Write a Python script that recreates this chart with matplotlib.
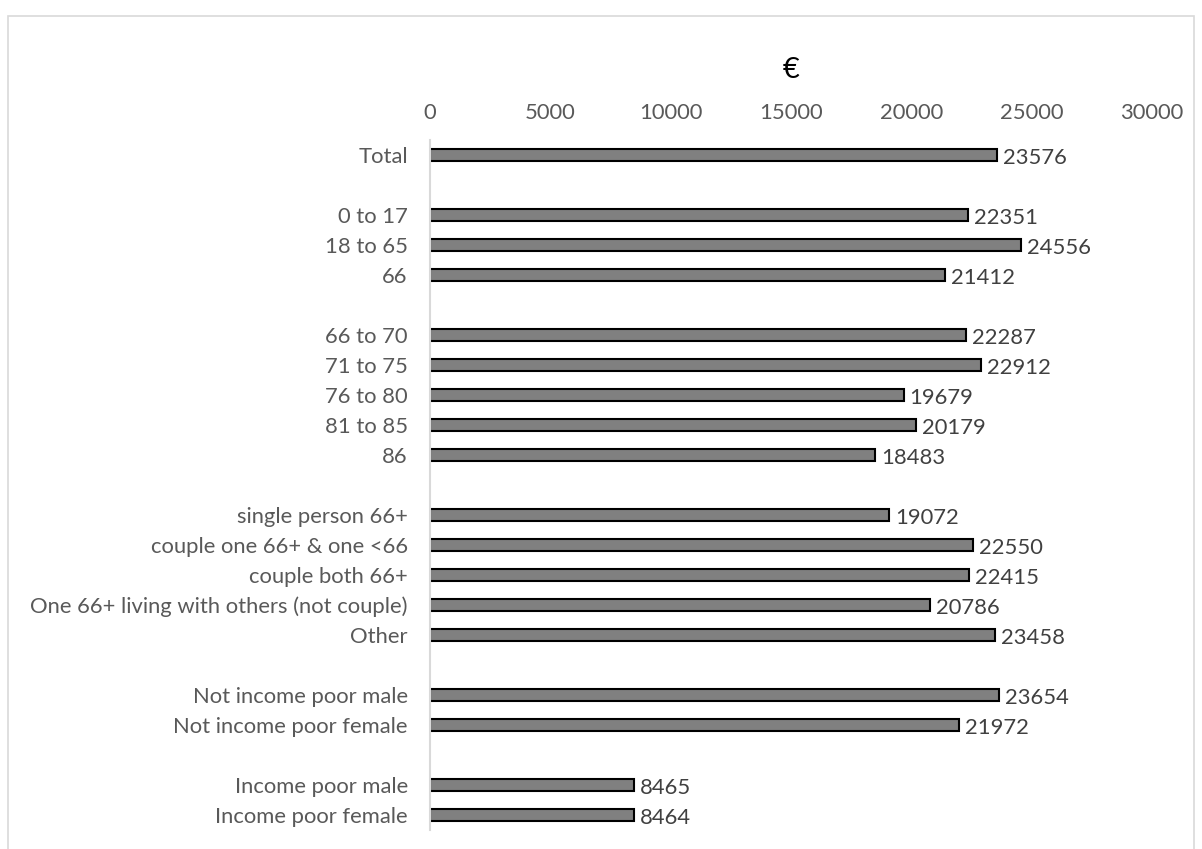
import matplotlib
matplotlib.use("Agg")
import matplotlib.pyplot as plt
from matplotlib.patches import Rectangle

categories = ["Total", "", "0 to 17", "18 to 65", "66", "",
              "66 to 70", "71 to 75", "76 to 80", "81 to 85", "86", "",
              "single person 66+", "couple one 66+ & one <66", "couple both 66+",
              "One 66+ living with others (not couple)", "Other", "",
              "Not income poor male", "Not income poor female", "",
              "Income poor male", "Income poor female"]
values = [23576, None, 22351, 24556, 21412, None,
          22287, 22912, 19679, 20179, 18483, None,
          19072, 22550, 22415, 20786, 23458, None,
          23654, 21972, None,
          8465, 8464]
xticks = [0, 5000, 10000, 15000, 20000, 25000, 30000]

plt.rcParams['font.family'] = ['Lato', 'DejaVu Sans']

W, H = 1202, 849
FS = 15.8
fig = plt.figure(figsize=(W/100, H/100), dpi=100)
fig.patches.append(Rectangle((8/W, -0.05), (1194-8)/W, (849-16)/H + 0.05,
                             transform=fig.transFigure, fill=False,
                             edgecolor="#d9d9d9", linewidth=1.2))

ax = fig.add_axes([430/W, (H-830)/H, (1152-430)/W, (830-140)/H])
ys = list(range(len(categories)))
for y, v in zip(ys, values):
    if v is None:
        continue
    ax.barh(y, v, height=0.4, color="#808080", edgecolor="black", linewidth=1.5)
    ax.text(v + 250, y + 0.1, str(v), va="center", ha="left",
            fontsize=FS, color="#404040")

ax.set_ylim(len(categories) - 0.5, -0.5)
ax.set_xlim(0, 30000)
ax.set_yticks(ys)
ax.set_yticklabels(categories)
ax.set_xticks(xticks)
ax.set_xticklabels([str(t) for t in xticks])
ax.xaxis.tick_top()
ax.tick_params(axis='x', length=0, pad=12, labelsize=FS, labelcolor="#595959")
ax.tick_params(axis='y', length=0, pad=16, labelsize=FS, labelcolor="#595959")
for s in ["top", "right", "bottom"]:
    ax.spines[s].set_visible(False)
ax.spines["left"].set_color("#d9d9d9")
ax.spines["left"].set_linewidth(1.5)

fig.text((430+1152)/2/W, 1 - 70/H, "€", ha="center", va="center",
         fontsize=21, color="black")

fig.savefig("out.png", dpi=100)
